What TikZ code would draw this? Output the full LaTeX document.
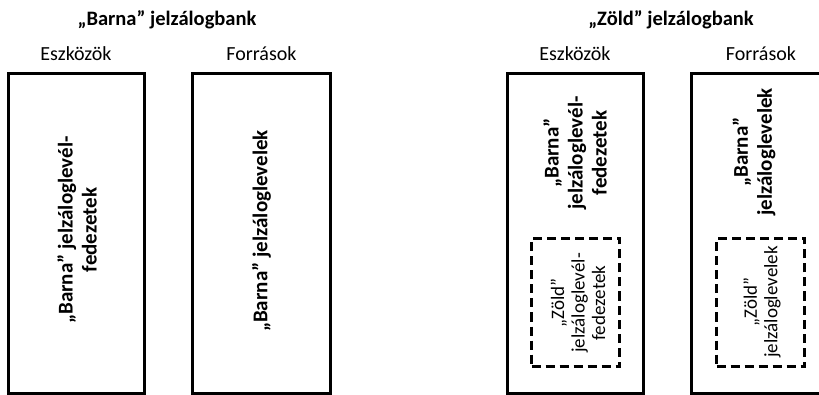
\documentclass[tikz,border=0pt]{standalone}
\usepackage{fontspec}
\setmainfont{Carlito}
\begin{document}
\begin{tikzpicture}[x=1pt,y=-1pt,
  acct/.style={draw, line width=3pt, rectangle, inner sep=0pt, minimum width=#1, minimum height=320pt},
  sub/.style={draw, line width=3pt, dash pattern=on 9pt off 5pt, rectangle, inner sep=0pt, minimum width=88pt, minimum height=128pt},
  ttl/.style={font=\fontsize{20.5}{24}\selectfont\bfseries},
  colhead/.style={font=\fontsize{20}{24}\selectfont},
  btxt/.style={rotate=90, align=center, font=\fontsize{21}{24}\selectfont\bfseries},
  ztxt/.style={rotate=90, align=center, font=\fontsize{19}{20.5}\selectfont}]
\useasboundingbox (0,0) rectangle (819,395);
\clip (0,0) rectangle (819,395);
% titles
\node[ttl] (t1) at (167,20) {„Barna” jelzálogbank};
\node[ttl] (t2) at (671,20) {„Zöld” jelzálogbank};
\node[colhead] (h1) at (76,54) {Eszközök};
\node[colhead] (h2) at (261.5,54) {Források};
\node[colhead] (h3) at (575,54) {Eszközök};
\node[colhead] (h4) at (761,54) {Források};
% boxes
\node[acct=136pt] (b1) at (76.5,233.5) {};
\node[acct=138pt] (b2) at (261.5,233.5) {};
\node[acct=136pt] (b3) at (575.5,233.5) {};
\node[acct=138pt] (b4) at (760.5,233.5) {};
% texts
\node[btxt] (x1) at (77,230) {„Barna” jelzáloglevél-\\fedezetek};
\node[btxt] (x2) at (261.5,231) {„Barna” jelzáloglevelek};
\node[btxt] (x3) at (575,153) {„Barna”\\jelzáloglevél-\\fedezetek};
\node[btxt] (x4) at (754,152) {„Barna”\\jelzáloglevelek};
% dashed
\node[sub] (d1) at (575.5,302.5) {};
\node[sub] (d2) at (760.5,302.5) {};
\node[ztxt] (z1) at (578,303) {„Zöld”\\jelzáloglevél-\\fedezetek};
\node[ztxt] (z2) at (762,302) {„Zöld”\\jelzáloglevelek};
\end{tikzpicture}
\end{document}
